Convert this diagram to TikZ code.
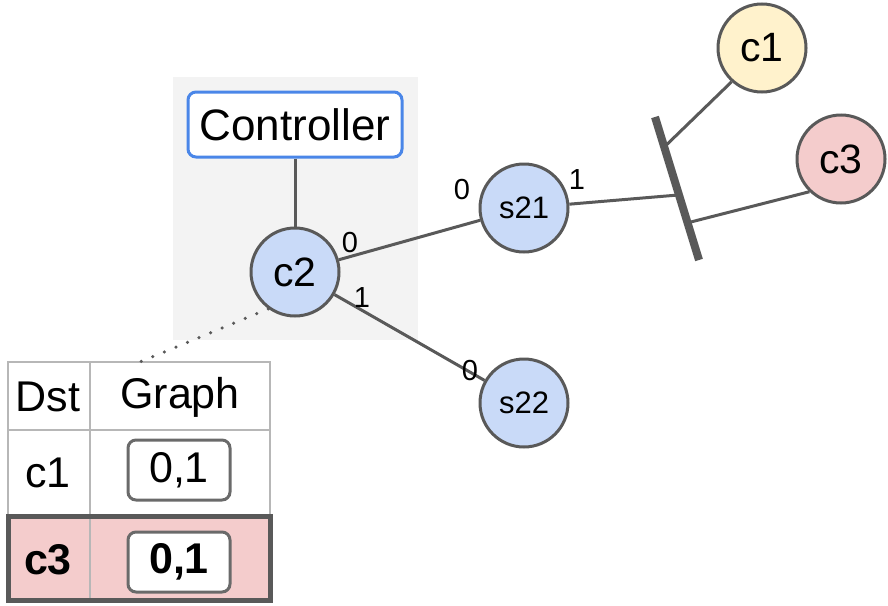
\documentclass[tikz,border=0pt]{standalone}
\usepackage{fontspec}
\setmainfont{Liberation Sans}
\usetikzlibrary{calc}
\definecolor{edgegray}{HTML}{595959}
\definecolor{gridgray}{HTML}{B7B7B7}
\definecolor{nodeblue}{HTML}{C9DAF8}
\definecolor{nodeyellow}{HTML}{FFF2CC}
\definecolor{nodepink}{HTML}{F4CCCC}
\definecolor{ctrlblue}{HTML}{4A86E8}
\definecolor{bggray}{HTML}{F3F3F3}
\begin{document}
\begin{tikzpicture}[x=1pt,y=-1pt,
  sw/.style={circle, draw=edgegray, line width=3pt, fill=nodeblue, minimum size=88pt, inner sep=0pt},
  big/.style={font=\fontsize{41}{44}\selectfont},
  small/.style={font=\fontsize{31}{34}\selectfont},
  port/.style={inner sep=0pt, font=\fontsize{29}{32}\selectfont},
  link/.style={draw=edgegray, line width=3pt},
  cell/.style={inner sep=0pt, font=\fontsize{43}{46}\selectfont},
  valbox/.style={draw=edgegray!90, line width=3pt, rounded corners=8pt, fill=white,
    minimum width=102pt, minimum height=60pt, inner sep=0pt, font=\fontsize{43}{46}\selectfont}]
\useasboundingbox (0,0) rectangle (888,605);

% shaded controller region
\fill[bggray] (173,77) rectangle (418,340);

% nodes
\node[draw=ctrlblue, line width=3pt, rounded corners=8pt, fill=white,
  minimum width=214pt, minimum height=65pt, inner sep=0pt,
  font=\fontsize{44}{48}\selectfont] (ctrl) at (295,124.5) {Controller};
\node[sw, big] (c2) at (295,272) {c2};
\node[sw, small] (s21) at (524,208) {s21};
\node[sw, small] (s22) at (524,403) {s22};
\node[sw, big, fill=nodeyellow] (c1) at (762,48) {c1};
\node[sw, big, fill=nodepink] (c3) at (841,159) {c3};

% bar joining the far clients
\coordinate (bt) at (655,117);
\coordinate (bb) at (699,260);
\coordinate (j1) at ($(bt)!0.21!(bb)$);
\coordinate (j21) at ($(bt)!0.545!(bb)$);
\coordinate (j3) at ($(bt)!0.74!(bb)$);

% links
\draw[link] (ctrl) -- (c2);
\draw[link] (c2) -- (s21);
\draw[link] (c2) -- (s22);
\draw[link] (s21) -- (j21);
\draw[link] (j1) -- (c1.228);
\draw[link] (j3) -- (c3.226);
\draw[edgegray, line width=8pt] (bt) -- (bb);

% port numbers
\node[port] (p20) at (350,243) {0};
\node[port] (p21) at (362,298) {1};
\node[port] (pa0) at (462,190) {0};
\node[port] (pa1) at (577,180) {1};
\node[port] (pb0) at (470,371) {0};

% table
\fill[nodepink] (8,516) rectangle (270,600);
\draw[gridgray, line width=2.5pt] (8,362) rectangle (270,600);
\draw[gridgray, line width=2.5pt] (8,430) -- (270,430);
\draw[gridgray, line width=2.5pt] (90,362) -- (90,600);
\draw[edgegray, line width=5pt] (8,516) rectangle (270,600);

\node[cell] (hdst) at (48,397) {Dst};
\node[cell] (hgraph) at (180,397) {Graph};
\node[cell] (r1dst) at (48,473) {c1};
\node[valbox] (r1g) at (179,470) {0,1};
\node[cell, font=\fontsize{43}{46}\selectfont\bfseries] (r2dst) at (48,560) {c3};
\node[valbox, font=\fontsize{43}{46}\selectfont\bfseries] (r2g) at (179,562) {0,1};

\coordinate (tabtop) at (140,362);
\draw[edgegray, line width=3.5pt, line cap=round, dash pattern=on 0pt off 12.5pt] (c2.234) -- (tabtop);
\end{tikzpicture}
\end{document}
